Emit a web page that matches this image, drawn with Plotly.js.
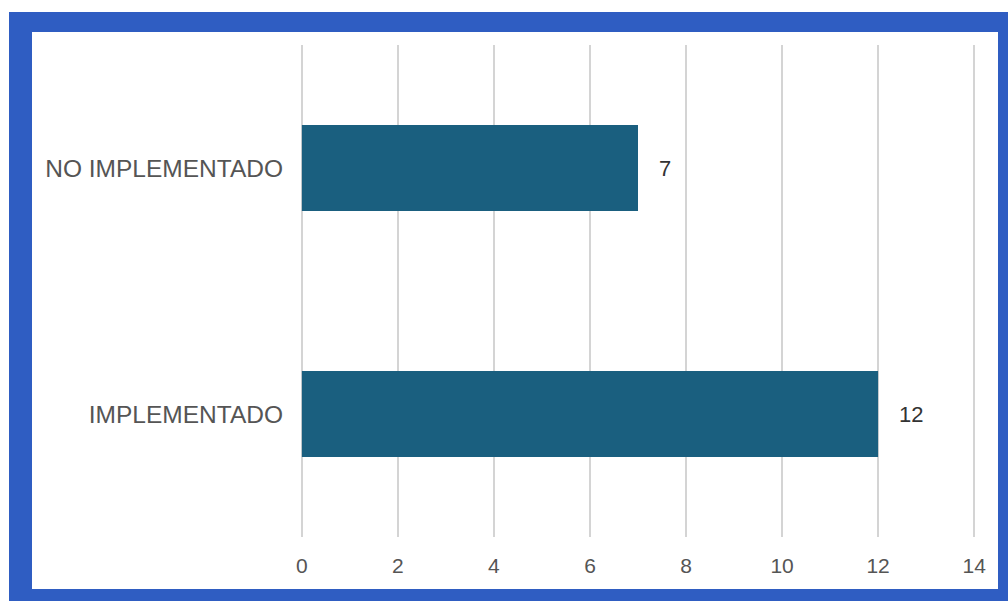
<!DOCTYPE html>
<html>
<head>
<meta charset="utf-8">
<script src="https://cdn.plot.ly/plotly-3.0.1.min.js"></script>
<style>
  html, body { margin: 0; padding: 0; background: #ffffff; }
  #frame { position: absolute; left: 9px; top: 12px; width: 999px; height: 589px; background: #2f5dc2; }
  #inner { position: absolute; left: 32px; top: 32px; width: 966px; height: 557px; background: #ffffff; }
  #chart { position: absolute; left: 0; top: 0; width: 1008px; height: 601px; }
</style>
</head>
<body>
<div id="frame"></div>
<div id="inner"></div>
<div id="chart"></div>
<script>
const categories = ['IMPLEMENTADO', 'NO IMPLEMENTADO'];
const values = [12, 7];
const tickValues = [0, 2, 4, 6, 8, 10, 12, 14];

const trace = {
  type: 'bar',
  orientation: 'h',
  y: categories,
  x: values,
  marker: { color: '#1a5f7f' },
  hoverinfo: 'none'
};

const annotations = categories.map((c, i) => ({
  x: values[i], y: c, xref: 'x', yref: 'y',
  text: String(values[i]), showarrow: false,
  xanchor: 'left', xshift: 19,
  font: { family: 'Liberation Sans, Arial, sans-serif', size: 22, color: '#333333' }
}));

const layout = {
  width: 1008, height: 601,
  margin: { l: 299, r: 31, t: 45, b: 64 },
  paper_bgcolor: 'rgba(0,0,0,0)',
  plot_bgcolor: 'rgba(0,0,0,0)',
  bargap: 0.65,
  showlegend: false,
  xaxis: {
    range: [-0.06, 14.06],
    tickvals: tickValues,
    ticktext: tickValues.map(String),
    showgrid: true, gridcolor: '#d4d4d4', gridwidth: 2,
    zeroline: false, showline: false,
    ticklabelstandoff: 14,
    tickfont: { family: 'Liberation Sans, Arial, sans-serif', size: 21, color: '#555555' }
  },
  yaxis: {
    showgrid: false, zeroline: false, showline: false,
    ticklabelstandoff: 15,
    tickfont: { family: 'Liberation Sans, Arial, sans-serif', size: 24.5, color: '#555555' }
  },
  annotations: annotations
};

Plotly.newPlot('chart', [trace], layout, { displayModeBar: false, staticPlot: true });
</script>
</body>
</html>
